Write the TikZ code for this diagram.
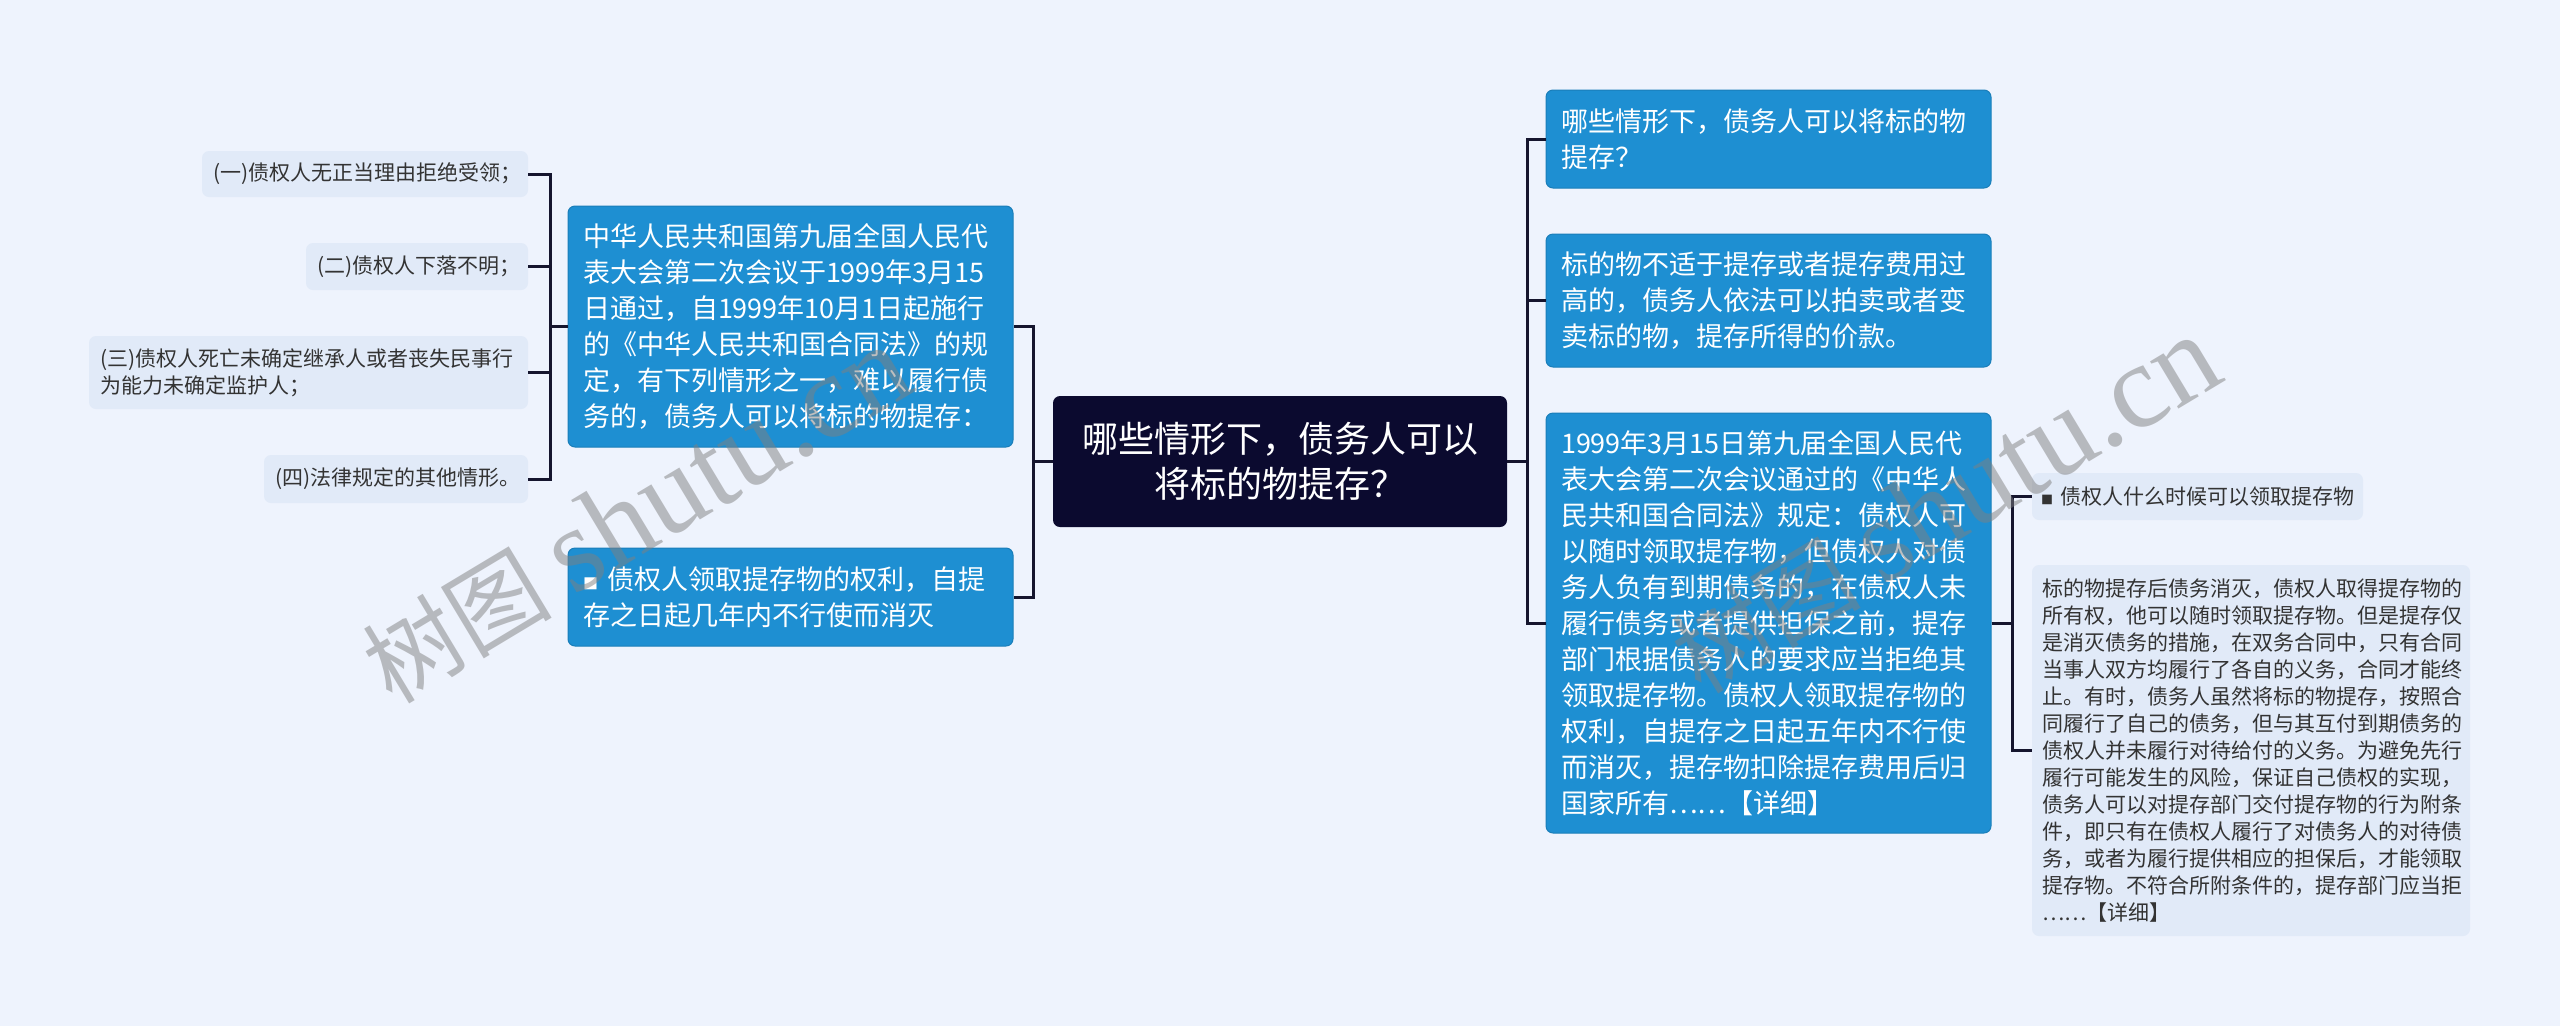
\documentclass[tikz,border=0pt]{standalone}
\usepackage{fontspec}
\setmainfont{Noto Sans CJK SC}
\newfontfamily\wmlatin{Liberation Serif}
\usetikzlibrary{calc}
\definecolor{bgblue}{HTML}{EEF3FD}
\definecolor{rootnavy}{HTML}{0B0A2F}
\definecolor{topicblue}{HTML}{1E8FD2}
\definecolor{leafgray}{HTML}{E1EAF8}
\definecolor{linenavy}{HTML}{15152E}
\definecolor{leaftext}{HTML}{333333}
\newcommand{\bul}[1]{{\fontsize{#1}{#1}\selectfont ■}}

\tikzset{
  root/.style={fill=rootnavy, text=white, rounded corners=7, align=center,
    font=\fontsize{36}{45}\selectfont, minimum width=454, minimum height=131, inner sep=0},
  topic/.style={fill=topicblue, draw=topicblue!88!black, line width=1, text=white,
    rounded corners=7, align=left, font=\fontsize{27}{36}\selectfont,
    text width=415, inner xsep=15, inner ysep=0},
  leaf/.style={fill=leafgray, text=leaftext, rounded corners=7, align=left,
    font=\fontsize{21}{27}\selectfont, inner xsep=11, inner ysep=0},
  conn/.style={draw=linenavy, line width=3},
  wm/.style={text=gray, opacity=0.5, font=\fontsize{95}{95}\selectfont, inner sep=0}
}

\begin{document}
\begin{tikzpicture}[x=1pt, y=-1pt]
\fill [bgblue] (0,0) rectangle (2560,1026);
\useasboundingbox (0,0) rectangle (2560,1026);

\node (root) at (1280,461.5) [root] {哪些情形下，债务人可以\\将标的物提存？};

\node (lt1) at (790.5,326.5) [topic, minimum height=241] {中华人民共和国第九届全国人民代\\表大会第二次会议于1999年3月15\\日通过，自1999年10月1日起施行\\的《中华人民共和国合同法》的规\\定，有下列情形之一，难以履行债\\务的，债务人可以将标的物提存：};
\node (lt2) at (790.5,597) [topic, minimum height=98] {\bul{15}~债权人领取提存物的权利，自提\\存之日起几年内不行使而消灭};

\node (ll1) at (365,174) [leaf, text width=304, minimum height=46] {(一)债权人无正当理由拒绝受领；};
\node (ll2) at (417,266.5) [leaf, text width=200, minimum height=47] {(二)债权人下落不明；};
\node (ll3) at (308.5,372.5) [leaf, text width=417, minimum height=73] {(三)债权人死亡未确定继承人或者丧失民事行\\为能力未确定监护人；};
\node (ll4) at (396,479) [leaf, text width=242, minimum height=48] {(四)法律规定的其他情形。};

\node (rt1) at (1768.5,139) [topic, minimum height=98] {哪些情形下，债务人可以将标的物\\提存？};
\node (rt2) at (1768.5,300.5) [topic, minimum height=133] {标的物不适于提存或者提存费用过\\高的，债务人依法可以拍卖或者变\\卖标的物，提存所得的价款。};
\node (rt3) at (1768.5,623) [topic, minimum height=420] {1999年3月15日第九届全国人民代\\表大会第二次会议通过的《中华人\\民共和国合同法》规定：债权人可\\以随时领取提存物，但债权人对债\\务人负有到期债务的，在债权人未\\履行债务或者提供担保之前，提存\\部门根据债务人的要求应当拒绝其\\领取提存物。债权人领取提存物的\\权利，自提存之日起五年内不行使\\而消灭，提存物扣除提存费用后归\\国家所有……【详细】};

\node (rl1) at (2197.5,496.5) [leaf, text width=313, inner xsep=9, minimum height=47] {\bul{12}~债权人什么时候可以领取提存物};
\node (rl2) at (2251,750.5) [leaf, text width=418, inner xsep=10, minimum height=371] {标的物提存后债务消灭，债权人取得提存物的\\所有权，他可以随时领取提存物。但是提存仅\\是消灭债务的措施，在双务合同中，只有合同\\当事人双方均履行了各自的义务，合同才能终\\止。有时，债务人虽然将标的物提存，按照合\\同履行了自己的债务，但与其互付到期债务的\\债权人并未履行对待给付的义务。为避免先行\\履行可能发生的风险，保证自己债权的实现，\\债务人可以对提存部门交付提存物的行为附条\\件，即只有在债权人履行了对债务人的对待债\\务，或者为履行提供相应的担保后，才能领取\\提存物。不符合所附条件的，提存部门应当拒\\……【详细】};

\coordinate (jl) at (1033,461.5);
\coordinate (jll) at (550,326.5);
\coordinate (jr) at (1527,461.5);
\coordinate (jrr) at (2012,623);

\draw [conn] (root.west) -- (jl) -- (jl |- lt1.east) [rounded corners=10] -- (lt1.east);
\draw [conn] (root.west) -- (jl) -- (jl |- lt2.east) [rounded corners=10] -- (lt2.east);
\draw [conn] (lt1.west) -- (jll) -- (jll |- ll1.east) [rounded corners=10] -- (ll1.east);
\draw [conn] (lt1.west) -- (jll) -- (jll |- ll2.east) [rounded corners=10] -- (ll2.east);
\draw [conn] (lt1.west) -- (jll) -- (jll |- ll3.east) [rounded corners=10] -- (ll3.east);
\draw [conn] (lt1.west) -- (jll) -- (jll |- ll4.east) [rounded corners=10] -- (ll4.east);
\draw [conn] (root.east) -- (jr) -- (jr |- rt1.west) [rounded corners=10] -- (rt1.west);
\draw [conn] (root.east) -- (jr) -- (jr |- rt2.west) [rounded corners=10] -- (rt2.west);
\draw [conn] (root.east) -- (jr) -- (jr |- rt3.west) [rounded corners=10] -- (rt3.west);
\draw [conn] (rt3.east) -- (jrr) -- (jrr |- rl1.west) [rounded corners=10] -- (rl1.west);
\draw [conn] (rt3.east) -- (jrr) -- (jrr |- rl2.west) [rounded corners=10] -- (rl2.west);

\node (wm1) at (636,515) [wm, rotate=31] {树图 {\wmlatin\fontsize{120}{120}\selectfont shutu.cn}};
\node (wm2) at (1945,505) [wm, rotate=31] {树图 {\wmlatin\fontsize{120}{120}\selectfont shutu.cn}};
\end{tikzpicture}
\end{document}
